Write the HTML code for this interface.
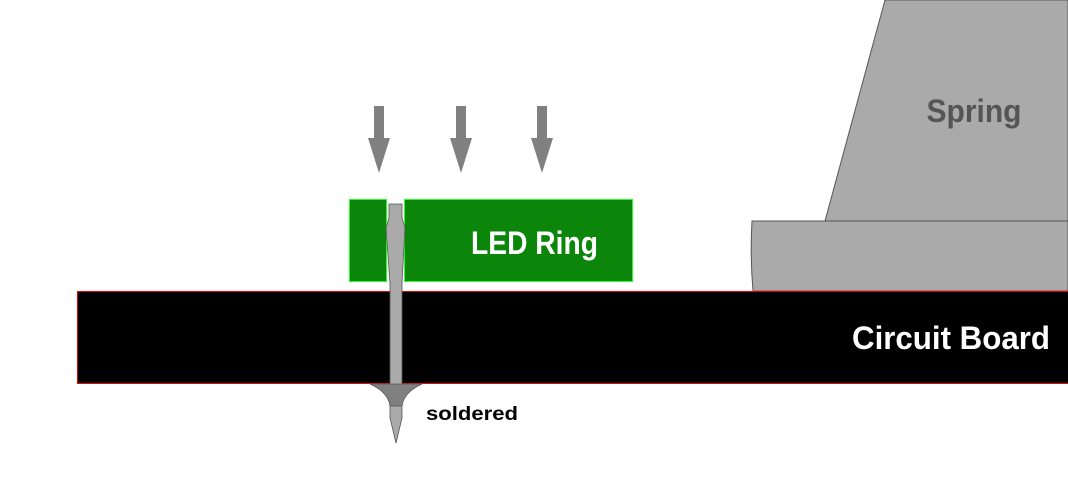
<!DOCTYPE html>
<html><head><style>body{margin:0;background:#fff;}svg{display:block}</style></head>
<body>
<svg width="1068" height="486" viewBox="0 0 1068 486" xmlns="http://www.w3.org/2000/svg">
<rect width="1068" height="486" fill="#fff"/>
<!-- spring -->
<polygon points="885,0 1068,0 1068,221 825,221" fill="#aaa" stroke="#555" stroke-width="1"/>
<path d="M752,221 L1068,221 L1068,291 L753,291 Q750,256 752,221 Z" fill="#aaa" stroke="#555" stroke-width="1"/>
<text x="974" y="122" font-family="Liberation Sans, sans-serif" font-size="32" font-weight="bold" fill="#555" text-anchor="middle" textLength="95" lengthAdjust="spacingAndGlyphs">Spring</text>
<!-- board -->
<rect x="77.5" y="291.5" width="992" height="92" fill="#000" stroke="#e00" stroke-width="1"/>
<text x="852" y="349" font-family="Liberation Sans, sans-serif" font-size="32" font-weight="bold" fill="#fff" textLength="198" lengthAdjust="spacingAndGlyphs">Circuit Board</text>
<!-- LED pads -->
<rect x="349.5" y="199.5" width="37" height="82" fill="#0b860b" stroke="#2f2" stroke-width="1"/>
<rect x="404.5" y="199.5" width="228" height="82" fill="#0b860b" stroke="#2f2" stroke-width="1"/>
<text x="471" y="254" font-family="Liberation Sans, sans-serif" font-size="32" font-weight="bold" fill="#fff" textLength="127" lengthAdjust="spacingAndGlyphs">LED Ring</text>
<!-- arrows -->
<g fill="#808080">
<polygon points="374,106 384,106 384,138 390,138 379,173 368,138 374,138"/>
<polygon points="456,106 466,106 466,138 472,138 461,173 450,138 456,138"/>
<polygon points="537,106 547,106 547,138 553,138 542,173 531,138 537,138"/>
</g>
<!-- solder -->
<path d="M370,384 L422,384 Q404,392 402,406 L390,406 Q388,392 370,384 Z" fill="#808080" stroke="#555" stroke-width="0.7"/>
<!-- pin -->
<path d="M389,204 L402,204 L402,218 L405,228 L402,283 L402,384 L390,384 L390,283 L386,228 L389,218 Z" fill="#aaa" stroke="#555" stroke-width="0.8"/>
<path d="M390,406 L402,406 L402,418 L396,443 L390,418 Z" fill="#aaa" stroke="#555" stroke-width="0.8"/>
<text x="426" y="420" font-family="Liberation Sans, sans-serif" font-size="19" font-weight="bold" fill="#000" textLength="92" lengthAdjust="spacingAndGlyphs">soldered</text>
</svg>
</body></html>
